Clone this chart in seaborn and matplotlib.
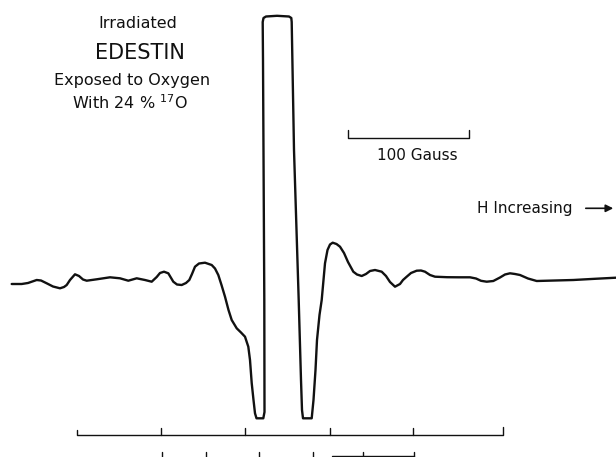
"""Irradiated edestin ESR trace (17O enriched oxygen) - redraw of the scanned figure."""
import numpy as np
import pandas as pd
import matplotlib
matplotlib.use("Agg")
import matplotlib.pyplot as plt
import seaborn as sns

# trace: field position (left -> right) and pen deflection (down = larger)
field = [
    11.7, 21.7, 28, 36.7, 41, 46.7, 53, 60, 64, 66.7, 70, 75, 79, 83, 86.7, 96.7,
    110, 120, 128.3, 136.7, 145, 151.7, 156.7, 160, 164, 168.3, 173.3, 177, 181.7,
    186, 189.3, 192, 195, 199, 205, 211.7, 215, 218.3, 221.5, 225, 228.5, 231.7,
    236.7, 241, 245, 248.3, 250, 251.7, 253.5, 255, 256.5, 263.3, 264.5,
    264.3, 263, 262.7, 263.5, 266, 277, 289, 291.3, 291.7,
    294, 298.7, 301, 302, 303, 311.7, 313.5, 315.5, 317, 319.5, 321.7, 323.5, 325,
    327.5, 330, 332.7, 336.5, 340, 344, 348, 353.3, 357, 361.7, 366, 370, 375,
    381.7, 386, 390, 395, 400, 403, 406.7, 411, 416.7, 421, 425, 430, 435, 447,
    458.3, 470, 476, 481, 486.7, 493.3, 500, 505, 510, 515, 520, 528, 536.7, 555,
    573.3, 595, 616,
]
deflection = [
    284, 284, 283, 280, 280.5, 283.3, 286.5, 288.3, 287, 285, 280, 274.3, 276, 279.5, 280.7, 279.3,
    277.3, 278.3, 280.7, 278.3, 280, 281.7, 277, 273, 271.7, 273.3, 281.7, 284.5, 285,
    283, 280, 274, 266.7, 263.5, 262.7, 265, 268.5, 275, 285, 296.7, 310, 320,
    328.3, 332.5, 336.7, 346.7, 360, 383, 400, 413.3, 418.3, 418.3, 412,
    300, 60, 22, 18, 16.5, 15.8, 16.5, 18, 22,
    150, 300, 380, 410, 418.3, 418.3, 400, 370, 340, 315, 300, 280, 263.3,
    250, 244.5, 242.7, 244, 246.7, 253, 262, 271.7, 274.5, 276, 274, 271, 270,
    271.7, 276, 282, 286.7, 284, 280, 276.7, 273, 270.7, 270.5, 271.7, 275, 276.7, 277.2,
    277.3, 277.3, 278.5, 280.8, 281.7, 281, 277.5, 274.5, 273.3, 274, 275, 278.5, 281, 280.5,
    280, 278.8, 277.7,
]

# ruler under the trace
ruler_span = [76.7, 503.3]
ruler_ticks = [160.7, 245, 330, 413.3]
lower_ticks = [161.7, 206, 259.3, 312.7, 363.3, 414]
lower_bar = [331.7, 414]
gauss_bar = [348.3, 469.3]

INK = "#111111"

sns.set_style("white")
plt.rcParams["font.family"] = ["DejaVu Sans"]

fig = plt.figure(figsize=(6.16, 4.57), dpi=100)
ax = fig.add_axes([0, 0, 1, 1])

df = pd.DataFrame({"field": field, "deflection": deflection})
sns.lineplot(data=df, x="field", y="deflection", sort=False, estimator=None,
             color=INK, lw=1.7, ax=ax)

# ruler
ax.plot([ruler_span[0], ruler_span[0], ruler_span[1], ruler_span[1]],
        [430, 434.5, 434.5, 427], color=INK, lw=1.0)
for t in ruler_ticks:
    ax.plot([t, t], [434.5, 428], color=INK, lw=1.0)
for t in lower_ticks:
    ax.plot([t, t], [457, 451.5], color=INK, lw=1.0)
ax.plot(lower_bar, [455.5, 455.5], color=INK, lw=1.0)

# 100 gauss scale bar
ax.plot([gauss_bar[0], gauss_bar[0], gauss_bar[1], gauss_bar[1]],
        [130, 138.3, 138.3, 130], color=INK, lw=1.0)
ax.text(417.5, 155.5, "100 Gauss", ha="center", va="center", fontsize=11, color=INK)

# field direction
ax.text(476.7, 208.5, "H Increasing", ha="left", va="center", fontsize=11, color=INK)
ax.annotate("", xy=(616, 208.3), xytext=(583, 208.3),
            arrowprops=dict(arrowstyle="-|>", color=INK, lw=1.2, mutation_scale=11))

# sample label
ax.text(137.5, 23, "Irradiated", ha="center", va="center", fontsize=11.5, color=INK)
ax.text(140, 53, "EDESTIN", ha="center", va="center", fontsize=15, color=INK)
ax.text(132.5, 80, "Exposed to Oxygen", ha="center", va="center", fontsize=11.5, color=INK)
ax.text(130, 103, r"With 24 % $^{17}$O", ha="center", va="center", fontsize=11.5, color=INK)

ax.set_xlim(0, 616)
ax.set_ylim(457, 0)
ax.set_axis_off()

plt.savefig("out.png", dpi=100)
plt.close()
